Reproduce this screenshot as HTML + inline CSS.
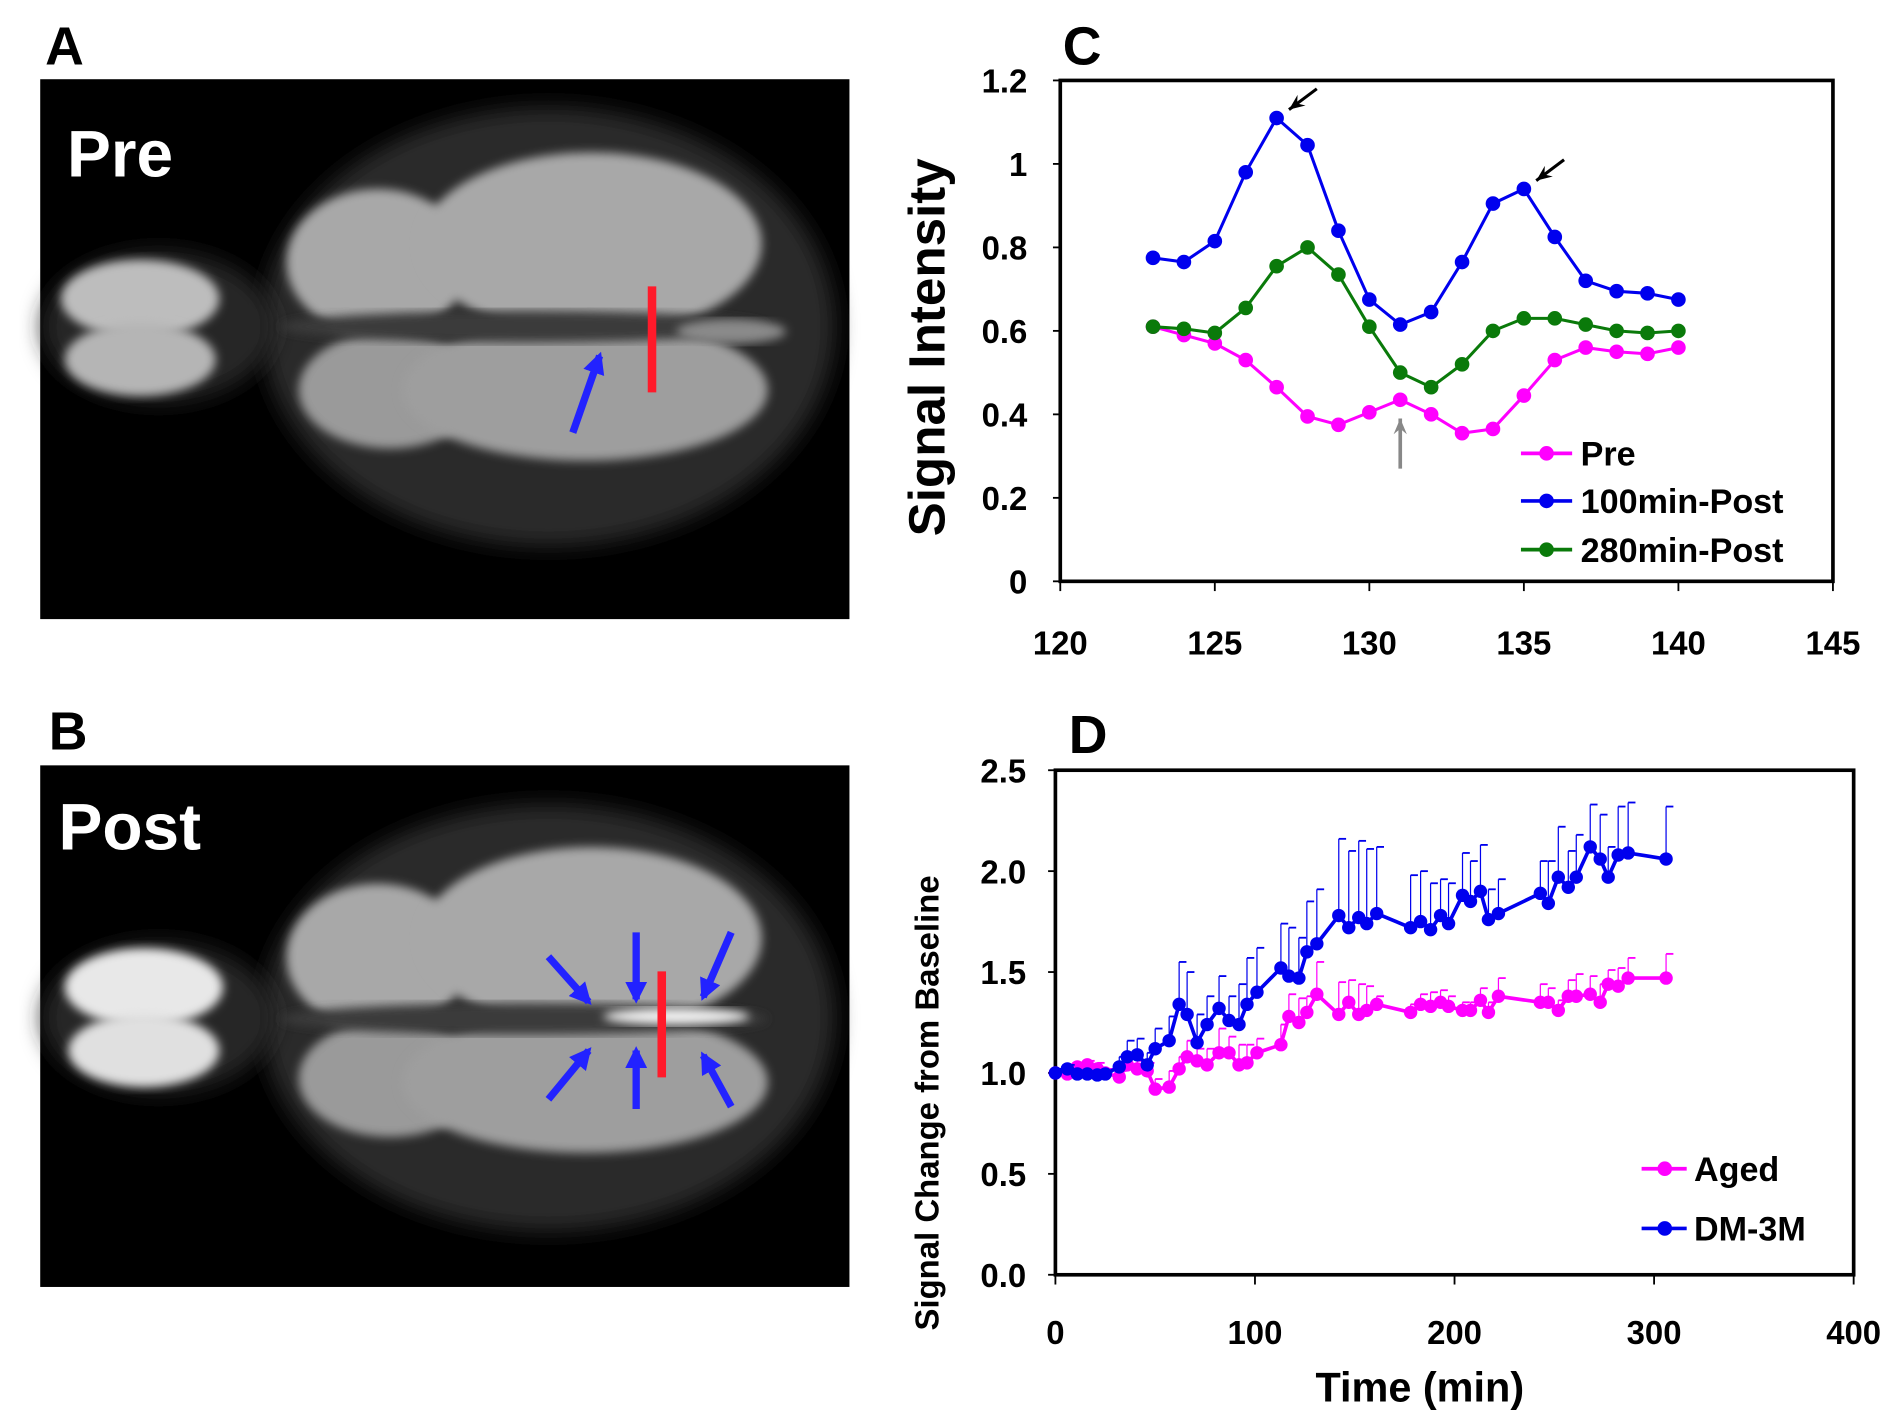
<!DOCTYPE html>
<html><head><meta charset="utf-8"><style>
html,body{margin:0;padding:0;background:#fff;}
svg{display:block;font-family:"Liberation Sans",Arial,sans-serif;font-weight:bold;}
</style></head><body>
<svg id="fig" width="1889" height="1412" viewBox="0 0 1550 1158.6" preserveAspectRatio="none" xmlns="http://www.w3.org/2000/svg">
<defs>
<filter id="blur4"><feGaussianBlur stdDeviation="4"/></filter>
<filter id="blur8"><feGaussianBlur stdDeviation="9"/></filter>
<marker id="ahB" viewBox="0 0 10 10" refX="8" refY="5" markerWidth="3" markerHeight="3" orient="auto"><path d="M0,0 L10,5 L0,10 z" fill="#2222ff"/></marker>
</defs>

<!-- Panel letters -->
<text x="37" y="53" font-size="44">A</text>
<text x="40" y="615" font-size="44">B</text>
<text x="872" y="53" font-size="44">C</text>
<text x="877" y="618" font-size="44">D</text>

<!-- Image A -->
<g>
<rect x="33" y="65" width="664" height="443" fill="#000"/>
<ellipse cx="450" cy="268" rx="235" ry="180" fill="#2a2a2a" filter="url(#blur8)"/>
<ellipse cx="130" cy="268" rx="95" ry="62" fill="#262626" filter="url(#blur8)"/>
<ellipse cx="115" cy="245" rx="65" ry="32" fill="#bdbdbd" filter="url(#blur4)"/>
<ellipse cx="115" cy="295" rx="62" ry="30" fill="#b5b5b5" filter="url(#blur4)"/>
<ellipse cx="310" cy="215" rx="75" ry="60" fill="#a8a8a8" filter="url(#blur4)"/>
<ellipse cx="485" cy="200" rx="140" ry="75" fill="#a8a8a8" filter="url(#blur4)"/>
<ellipse cx="320" cy="320" rx="75" ry="48" fill="#9a9a9a" filter="url(#blur4)"/>
<ellipse cx="480" cy="320" rx="150" ry="58" fill="#9e9e9e" filter="url(#blur4)"/>
<ellipse cx="430" cy="268" rx="200" ry="13" fill="#3a3a3a" filter="url(#blur4)"/>
<ellipse cx="600" cy="272" rx="45" ry="10" fill="#8a8a8a" filter="url(#blur4)"/>
<text x="55" y="145" font-size="54" fill="#fff">Pre</text>
<line x1="535" y1="235" x2="535" y2="322" stroke="#ff1a2a" stroke-width="7"/>
<line x1="470" y1="355" x2="492" y2="292" stroke="#2222ff" stroke-width="6" marker-end="url(#ahB)"/>
</g>

<!-- Image B -->
<g>
<rect x="33" y="628" width="664" height="428" fill="#000"/>
<ellipse cx="450" cy="835" rx="235" ry="175" fill="#2a2a2a" filter="url(#blur8)"/>
<ellipse cx="130" cy="835" rx="95" ry="62" fill="#262626" filter="url(#blur8)"/>
<ellipse cx="118" cy="810" rx="65" ry="32" fill="#e8e8e8" filter="url(#blur4)"/>
<ellipse cx="118" cy="862" rx="62" ry="30" fill="#e0e0e0" filter="url(#blur4)"/>
<ellipse cx="310" cy="785" rx="75" ry="60" fill="#a8a8a8" filter="url(#blur4)"/>
<ellipse cx="485" cy="770" rx="140" ry="75" fill="#a8a8a8" filter="url(#blur4)"/>
<ellipse cx="320" cy="885" rx="75" ry="48" fill="#9a9a9a" filter="url(#blur4)"/>
<ellipse cx="480" cy="888" rx="150" ry="58" fill="#9e9e9e" filter="url(#blur4)"/>
<ellipse cx="430" cy="836" rx="200" ry="13" fill="#3a3a3a" filter="url(#blur4)"/>
<ellipse cx="555" cy="834" rx="60" ry="7" fill="#f0f0f0" filter="url(#blur4)"/>
<text x="48" y="697" font-size="54" fill="#fff">Post</text>
<line x1="543" y1="797" x2="543" y2="884" stroke="#ff1a2a" stroke-width="7"/>
<line x1="450" y1="785" x2="483" y2="822" stroke="#2222ff" stroke-width="6" marker-end="url(#ahB)"/>
<line x1="522" y1="765" x2="522" y2="820" stroke="#2222ff" stroke-width="6" marker-end="url(#ahB)"/>
<line x1="600" y1="765" x2="577" y2="818" stroke="#2222ff" stroke-width="6" marker-end="url(#ahB)"/>
<line x1="450" y1="902" x2="483" y2="862" stroke="#2222ff" stroke-width="6" marker-end="url(#ahB)"/>
<line x1="522" y1="910" x2="522" y2="862" stroke="#2222ff" stroke-width="6" marker-end="url(#ahB)"/>
<line x1="600" y1="908" x2="577" y2="866" stroke="#2222ff" stroke-width="6" marker-end="url(#ahB)"/>
</g>

<g id="chartC"></g>
<g id="chartD"></g>
</svg>
<script>
// ---- Chart C data ----
const cX = [123,124,125,126,127,128,129,130,131,132,133,134,135,136,137,138,139,140];
const cPre = [0.61,0.59,0.57,0.53,0.465,0.395,0.375,0.405,0.435,0.40,0.355,0.365,0.445,0.53,0.56,0.55,0.545,0.56];
const cPost100 = [0.775,0.765,0.815,0.98,1.11,1.045,0.84,0.675,0.615,0.645,0.765,0.905,0.94,0.825,0.72,0.695,0.69,0.675];
const cPost280 = [0.61,0.605,0.595,0.655,0.755,0.80,0.735,0.61,0.50,0.465,0.52,0.60,0.63,0.63,0.615,0.60,0.595,0.60];
const cYTicks = ["0","0.2","0.4","0.6","0.8","1","1.2"];
const cXTicks = ["120","125","130","135","140","145"];
const cLegend = ["Pre","100min-Post","280min-Post"];

// ---- Chart D data ----
const dX = [0,6,11,16,21,25,32,36,41,46,50,57,62,66,71,76,82,87,92,96,101,113,117,122,126,131,142,147,152,156,161,178,183,188,193,197,204,208,213,217,222,243,247,252,257,261,268,273,277,282,287,306];
const dDM = [1.0,1.02,0.995,0.995,0.99,0.995,1.03,1.08,1.09,1.04,1.12,1.16,1.34,1.29,1.15,1.24,1.32,1.26,1.24,1.34,1.40,1.52,1.48,1.47,1.60,1.64,1.78,1.72,1.77,1.74,1.79,1.72,1.75,1.71,1.78,1.74,1.88,1.85,1.90,1.76,1.79,1.89,1.84,1.97,1.92,1.97,2.12,2.06,1.97,2.08,2.09,2.06];
const dDMErr = [0.02,0.02,0.01,0.01,0.01,0.01,0.05,0.08,0.08,0.06,0.10,0.12,0.21,0.21,0.14,0.14,0.16,0.12,0.20,0.23,0.22,0.22,0.24,0.20,0.25,0.27,0.38,0.38,0.38,0.37,0.33,0.26,0.25,0.23,0.18,0.20,0.21,0.20,0.23,0.15,0.17,0.16,0.21,0.25,0.18,0.21,0.21,0.22,0.15,0.24,0.25,0.26];
const dAged = [1.0,0.995,1.03,1.04,1.02,1.0,0.98,1.04,1.02,1.01,0.92,0.93,1.02,1.08,1.06,1.04,1.10,1.10,1.04,1.05,1.10,1.14,1.28,1.25,1.30,1.39,1.29,1.35,1.29,1.31,1.34,1.30,1.34,1.33,1.35,1.33,1.31,1.31,1.36,1.30,1.38,1.35,1.35,1.31,1.38,1.38,1.39,1.35,1.44,1.43,1.47,1.47];
const dAgedErr = [0.01,0.01,0.02,0.02,0.03,0.02,0.03,0.04,0.04,0.04,0.05,0.08,0.06,0.08,0.06,0.08,0.12,0.08,0.10,0.09,0.07,0.10,0.11,0.12,0.08,0.16,0.16,0.11,0.15,0.12,0.04,0.04,0.05,0.07,0.06,0.05,0.04,0.04,0.06,0.05,0.09,0.09,0.07,0.05,0.08,0.11,0.09,0.09,0.07,0.09,0.10,0.12];
const dYTicks = ["0.0","0.5","1.0","1.5","2.0","2.5"];
const dXTicks = ["0","100","200","300","400"];
const dLegend = ["Aged","DM-3M"];

const NS = "http://www.w3.org/2000/svg";
function mk(parent, tag, attrs, text){
  const e = document.createElementNS(NS, tag);
  for (const k in attrs) e.setAttribute(k, attrs[k]);
  if (text !== undefined) e.textContent = text;
  parent.appendChild(e);
  return e;
}

// ---- Chart C ----
(function(){
  const g = document.getElementById('chartC');
  const L=870,R=1504,T=66,B=477;
  const xs = v => L + (v-120)/(145-120)*(R-L);
  const ys = v => B - v/1.2*(B-T);
  const box = mk(g,'rect',{x:L,y:T,width:R-L,height:B-T,fill:'none',stroke:'#000','stroke-width':3});
  
  
  cYTicks.forEach((t,i)=>{
    const v = parseFloat(t), y = ys(v);
    mk(g,'line',{x1:L-6,y1:y,x2:L,y2:y,stroke:'#000','stroke-width':1.5});
    const tx = mk(g,'text',{x:843,y:y+10,'text-anchor':'end','font-size':27},t);
    
    
  });
  cXTicks.forEach((t,i)=>{
    const x = xs(parseFloat(t));
    mk(g,'line',{x1:x,y1:B,x2:x,y2:B+8,stroke:'#000','stroke-width':1.5});
    const tx = mk(g,'text',{x:x,y:537,'text-anchor':'middle','font-size':27},t);
    
    
  });
  const yt = mk(g,'text',{x:0,y:0,transform:'translate(775,285) rotate(-90)','text-anchor':'middle','font-size':42},'Signal Intensity');
  
  
  const series = [[cPre,'#ff00ff','series-pre'],[cPost280,'#0a7a0a','series-280min-post'],[cPost100,'#0000ee','series-100min-post']];
  series.forEach(([d,col,name])=>{
    const sg = mk(g,'g',{});
    
    
    mk(sg,'polyline',{points:d.map((v,i)=>xs(cX[i])+','+ys(v)).join(' '),fill:'none',stroke:col,'stroke-width':2.5});
    d.forEach((v,i)=>{
      const c = mk(sg,'circle',{cx:xs(cX[i]),cy:ys(v),r:6,fill:col});
      
      
    });
  });
  // annotation arrows
  function arrow(x1,y1,x2,y2,col,w){
    const a = mk(g,'line',{x1:x1,y1:y1,x2:x2,y2:y2,stroke:col,'stroke-width':w});
    
    
    const ang = Math.atan2(y2-y1,x2-x1), s=14;
    mk(g,'polygon',{points:[x2,y2,x2-s*Math.cos(ang-0.4),y2-s*Math.sin(ang-0.4),x2-s*0.6*Math.cos(ang),y2-s*0.6*Math.sin(ang),x2-s*Math.cos(ang+0.4),y2-s*Math.sin(ang+0.4)].join(','),fill:col});
  }
  arrow(xs(128.3),ys(1.18),xs(127.4),ys(1.13),'#000',2.5);
  arrow(xs(136.3),ys(1.01),xs(135.4),ys(0.96),'#000',2.5);
  arrow(xs(131),ys(0.27),xs(131),ys(0.39),'#888',3);
  const ly=[372,411,451], lc=['#ff00ff','#0000ee','#0a7a0a'];
  cLegend.forEach((t,i)=>{
    const lg = mk(g,'g',{});
    
    
    mk(lg,'line',{x1:1248,y1:ly[i],x2:1290,y2:ly[i],stroke:lc[i],'stroke-width':3});
    mk(lg,'circle',{cx:1269,cy:ly[i],r:6,fill:lc[i]});
    mk(lg,'text',{x:1297,y:ly[i]+10,'font-size':28},t);
  });
})();

// ---- Chart D ----
(function(){
  const g = document.getElementById('chartD');
  const L=866,R=1521,T=632,B=1046;
  const xs = v => L + v/400*(R-L);
  const ys = v => B - v/2.5*(B-T);
  const box = mk(g,'rect',{x:L,y:T,width:R-L,height:B-T,fill:'none',stroke:'#000','stroke-width':3});
  
  
  dYTicks.forEach(t=>{
    const y = ys(parseFloat(t));
    mk(g,'line',{x1:L-6,y1:y,x2:L,y2:y,stroke:'#000','stroke-width':1.5});
    const tx = mk(g,'text',{x:842,y:y+10,'text-anchor':'end','font-size':27},t);
    
    
  });
  dXTicks.forEach(t=>{
    const x = xs(parseFloat(t));
    mk(g,'line',{x1:x,y1:B,x2:x,y2:B+8,stroke:'#000','stroke-width':1.5});
    const tx = mk(g,'text',{x:x,y:1103,'text-anchor':'middle','font-size':27},t);
    
    
  });
  const xt = mk(g,'text',{x:1165,y:1150,'text-anchor':'middle','font-size':34},'Time (min)');
  
  
  const yt = mk(g,'text',{x:0,y:0,transform:'translate(770,905) rotate(-90)','text-anchor':'middle','font-size':27},'Signal Change from Baseline');
  
  
  const series = [[dAged,dAgedErr,'#ff00ff','series-aged'],[dDM,dDMErr,'#0000ee','series-dm-3m']];
  series.forEach(([d,err,col,name])=>{
    const sg = mk(g,'g',{});
    
    
    d.forEach((v,i)=>{
      const x = xs(dX[i]), y1 = ys(v), y2 = ys(v+err[i]);
      const e = mk(sg,'line',{x1:x,y1:y1,x2:x,y2:y2,stroke:col,'stroke-width':1});
      
      
      mk(sg,'line',{x1:x,y1:y2,x2:x+6,y2:y2,stroke:col,'stroke-width':1.5});
    });
    mk(sg,'polyline',{points:d.map((v,i)=>xs(dX[i])+','+ys(v)).join(' '),fill:'none',stroke:col,'stroke-width':3});
    d.forEach((v,i)=>{
      const c = mk(sg,'circle',{cx:xs(dX[i]),cy:ys(v),r:5.5,fill:col});
      
      
    });
  });
  const ly=[959,1008], lc=['#ff00ff','#0000ee'];
  dLegend.forEach((t,i)=>{
    const lg = mk(g,'g',{});
    
    
    mk(lg,'line',{x1:1347,y1:ly[i],x2:1384,y2:ly[i],stroke:lc[i],'stroke-width':3});
    mk(lg,'circle',{cx:1366,cy:ly[i],r:6,fill:lc[i]});
    mk(lg,'text',{x:1390,y:ly[i]+10,'font-size':28},t);
  });
})();
</script>
</body></html>
